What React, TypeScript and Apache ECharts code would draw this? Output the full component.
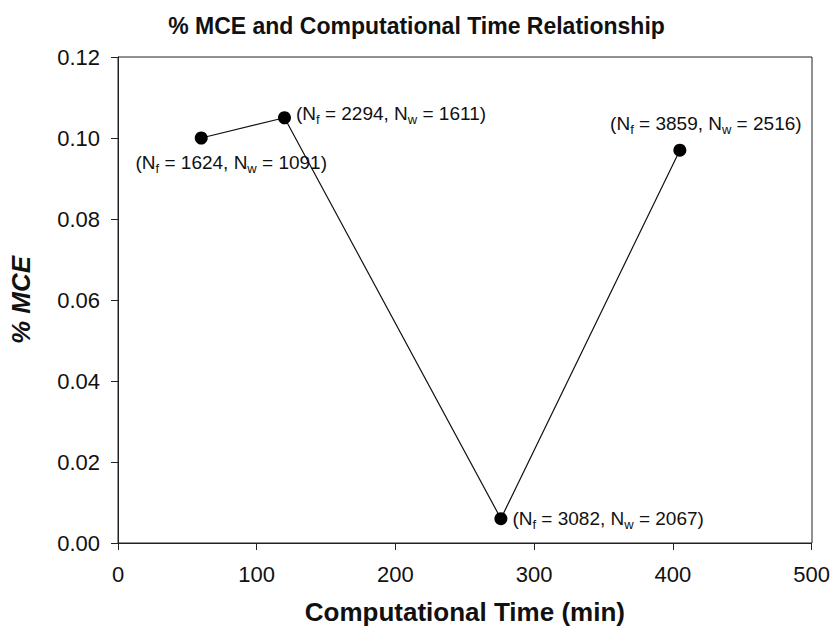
import React, { useEffect, useRef } from "react";
import * as echarts from "echarts";

// Computational time (min) and % MCE for each mesh configuration
const timeMin = [60, 120, 276, 405];
const mcePct = [0.1, 0.105, 0.006, 0.097];
const nf = [1624, 2294, 3082, 3859];
const nw = [1091, 1611, 2067, 2516];
const xTicks = [0, 100, 200, 300, 400, 500];
const yTicks = [0, 0.02, 0.04, 0.06, 0.08, 0.1, 0.12];

const FONT = "'Liberation Sans', Arial, sans-serif";

// label placement per point
const labelPlacement: any[] = [
  { position: "bottom", offset: [30, 0] },
  { position: "right", offset: [0, -4] },
  { position: "right", offset: [0, 0] },
  { position: "top", offset: [26, -3] },
];

export default function App() {
  const ref = useRef<HTMLDivElement>(null);
  useEffect(() => {
    if (!ref.current) return;
    const chart = echarts.init(ref.current, null, { renderer: "svg" });
    const data = timeMin.map((t, i) => ({
      value: [t, mcePct[i]],
      label: {
        show: true,
        ...labelPlacement[i],
        formatter: `(N{sub|f} = ${nf[i]}, N{sub|w} = ${nw[i]})`,
      },
    }));
    const grid = { left: 118, right: 21, top: 57, bottom: 94 };
    chart.setOption({
      animation: false,
      backgroundColor: "#ffffff",
      title: {
        text: "% MCE and Computational Time Relationship",
        left: "center",
        top: 9,
        textStyle: { fontFamily: FONT, fontSize: 23, fontWeight: "bold", color: "#111" },
      },
      grid,
      xAxis: {
        type: "value",
        min: xTicks[0],
        max: xTicks[xTicks.length - 1],
        interval: 100,
        name: "Computational Time (min)",
        nameLocation: "middle",
        nameGap: 56,
        nameTextStyle: { fontFamily: FONT, fontSize: 26, fontWeight: "bold", color: "#111" },
        axisLine: { show: true, lineStyle: { color: "#222", width: 1 } },
        axisTick: { show: true, length: 7, lineStyle: { color: "#222" } },
        axisLabel: { fontFamily: FONT, fontSize: 22, color: "#111", margin: 20 },
        splitLine: { show: false },
      },
      yAxis: {
        type: "value",
        min: yTicks[0],
        max: yTicks[yTicks.length - 1],
        interval: 0.02,
        name: "% MCE",
        nameLocation: "middle",
        nameGap: 84,
        nameTextStyle: {
          fontFamily: FONT,
          fontSize: 26,
          fontWeight: "bold",
          fontStyle: "italic",
          color: "#111",
        },
        axisLine: { show: true, lineStyle: { color: "#222", width: 1 } },
        axisTick: { show: true, length: 7, lineStyle: { color: "#222" } },
        axisLabel: {
          fontFamily: FONT,
          fontSize: 22,
          color: "#111",
          margin: 18,
          formatter: (v: number) => v.toFixed(2),
        },
        splitLine: { show: false },
      },
      graphic: [
        {
          // frame around the plot area (top and right edges)
          type: "rect",
          shape: {
            x: grid.left,
            y: grid.top,
            width: 833 - grid.left - grid.right,
            height: 637 - grid.top - grid.bottom,
          },
          style: { fill: "none", stroke: "#222", lineWidth: 1 },
          silent: true,
          z: 0,
        },
      ],
      series: [
        {
          type: "line",
          data,
          symbol: "circle",
          symbolSize: 13,
          itemStyle: { color: "#000" },
          lineStyle: { color: "#111", width: 1.2 },
          label: {
            fontFamily: FONT,
            fontSize: 19,
            color: "#111",
            rich: {
              sub: {
                fontFamily: FONT,
                fontSize: 13,
                color: "#111",
                verticalAlign: "bottom",
                padding: [12, 0, 0, 0],
              },
            },
          },
        },
      ],
    });
    return () => chart.dispose();
  }, []);
  return <div ref={ref} style={{ width: 833, height: 637, position: "absolute", left: 0, top: 0 }} />;
}
